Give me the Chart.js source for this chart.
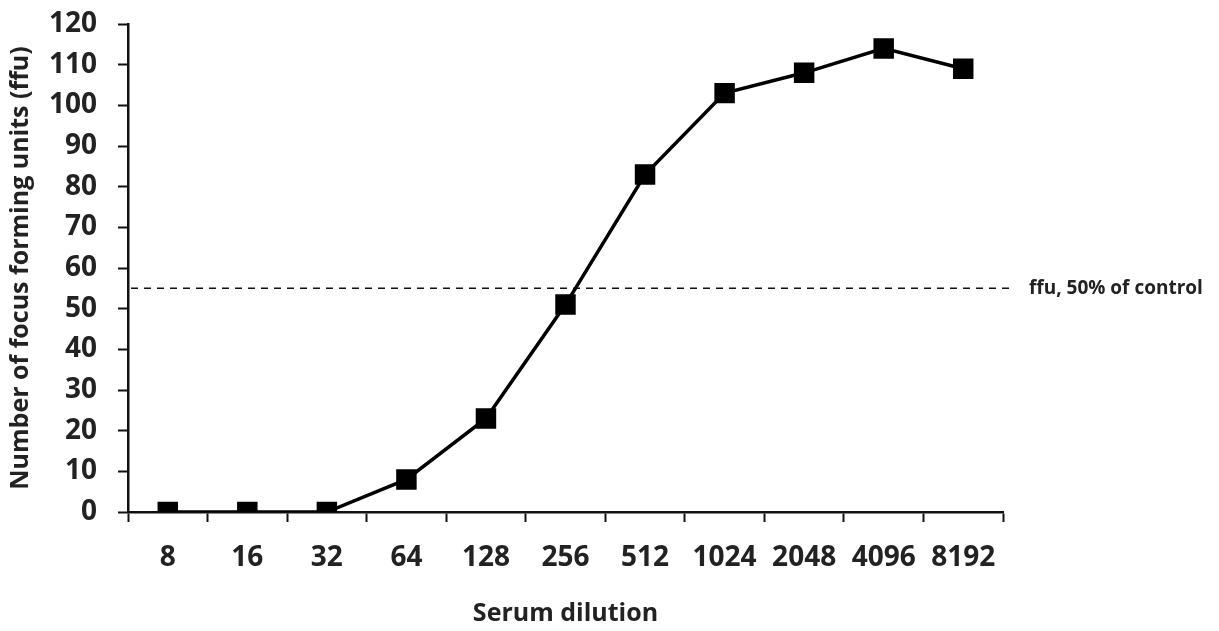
<!DOCTYPE html>
<html>
<head>
<meta charset="utf-8">
<script src="https://cdn.jsdelivr.net/npm/chart.js@4/dist/chart.umd.min.js"></script>
<style>
  html, body { margin: 0; padding: 0; background: #fff; }
  #wrap { width: 1219px; height: 631px; position: relative; }
</style>
</head>
<body>
<div id="wrap"><canvas id="lineChart"></canvas></div>
<script>
const dilutions = ['8', '16', '32', '64', '128', '256', '512', '1024', '2048', '4096', '8192'];
const ffuCounts = [0, 0, 0, 8, 23, 51, 83, 103, 108, 114, 109];
const yTicks = [0, 120, 10]; // min, max, step
const controlHalf = 55;
const controlLabel = 'ffu, 50% of control';

const textColor = '#222';
const fontFamily = '"Open Sans", "DejaVu Sans", sans-serif';

const controlLinePlugin = {
    id: 'controlLine',
    beforeDatasetsDraw(chart) {
        const ctx = chart.ctx;
        const area = chart.chartArea;
        const y = chart.scales.y.getPixelForValue(controlHalf);
        ctx.save();
        ctx.strokeStyle = '#111';
        ctx.lineWidth = 1.5;
        ctx.setLineDash([7, 6]);
        ctx.beginPath();
        ctx.moveTo(area.left + 3, y);
        ctx.lineTo(area.right + 12, y);
        ctx.stroke();
        ctx.setLineDash([]);
        ctx.fillStyle = textColor;
        ctx.font = 'bold 19px ' + fontFamily;
        ctx.textBaseline = 'middle';
        ctx.textAlign = 'left';
        ctx.fillText(controlLabel, area.right + 26, y);
        ctx.restore();
    }
};

const ctx = document.getElementById('lineChart').getContext('2d');
new Chart(ctx, {
    type: 'line',
    data: {
        labels: dilutions,
        datasets: [{
            data: ffuCounts,
            borderColor: '#000',
            backgroundColor: '#000',
            borderWidth: 3.5,
            pointStyle: 'rect',
            pointRadius: 12,
            pointHoverRadius: 12,
            tension: 0,
            fill: false
        }]
    },
    options: {
        responsive: true,
        maintainAspectRatio: false,
        animation: false,
        layout: { padding: { left: 6, right: 216, top: 24, bottom: 2 } },
        plugins: {
            legend: { display: false },
            tooltip: { enabled: false }
        },
        scales: {
            x: {
                offset: true,
                grid: {
                    offset: true,
                    drawOnChartArea: false,
                    drawTicks: true,
                    tickLength: 10,
                    tickColor: '#111',
                    tickWidth: 2
                },
                border: { display: true, color: '#111', width: 2.5 },
                ticks: {
                    autoSkip: false,
                    maxRotation: 0,
                    padding: 19,
                    color: textColor,
                    font: { family: fontFamily, size: 28, weight: 'bold' }
                },
                title: {
                    display: true,
                    text: 'Serum dilution',
                    color: textColor,
                    padding: { top: 14, bottom: 0 },
                    font: { family: fontFamily, size: 25, weight: 'bold' }
                },
                afterFit(scale) { scale.height = 117; }
            },
            y: {
                min: yTicks[0],
                max: yTicks[1],
                grid: {
                    drawOnChartArea: false,
                    drawTicks: true,
                    tickLength: 10,
                    tickColor: '#111',
                    tickWidth: 2
                },
                border: { display: true, color: '#111', width: 2.5 },
                ticks: {
                    stepSize: yTicks[2],
                    autoSkip: false,
                    padding: 21,
                    color: textColor,
                    font: { family: fontFamily, size: 28, weight: 'bold' }
                },
                title: {
                    display: true,
                    text: 'Number of focus forming units (ffu)',
                    color: textColor,
                    padding: { top: 0, bottom: 0 },
                    font: { family: fontFamily, size: 25, weight: 'bold' }
                },
                afterFit(scale) {
                    scale.width = 122;
                    scale.paddingTop = 0;
                }
            }
        }
    },
    plugins: [controlLinePlugin]
});
</script>
</body>
</html>
